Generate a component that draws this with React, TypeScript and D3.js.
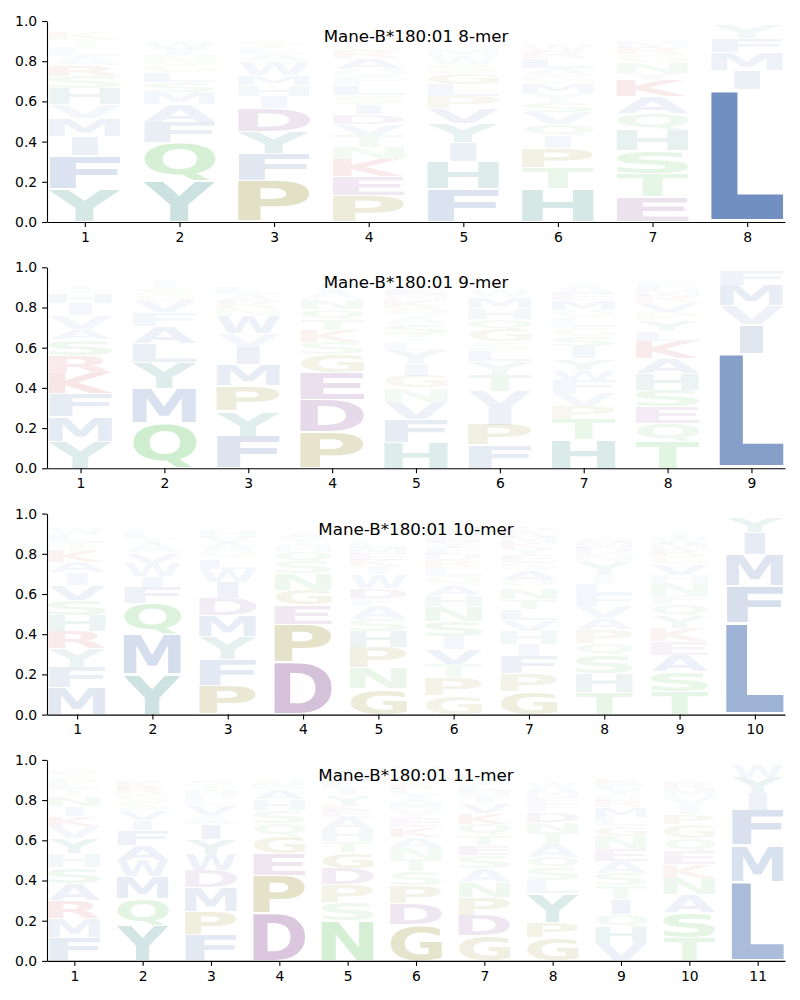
import { useRef, useEffect } from 'react'
import * as d3 from 'd3'

type Col = [string, number][]

const allele = 'Mane-B*180:01'
const lengths = [8, 9, 10, 11]
const yTicks = [0, 0.2, 0.4, 0.6, 0.8, 1.0]

// letter frequencies per position, listed bottom to top
const mer8: Col[] = [
  [['Y', .165], ['F', .165], ['I', .095], ['M', .09], ['V', .07], ['H', .08], ['S', .06], ['R', .055], ['A', .045], ['L', .045], ['T', .04], ['K', .03], ['W', .015], ['P', .01], ['E', .01], ['Q', .01]],
  [['Y', .205], ['Q', .19], ['F', .10], ['A', .09], ['M', .06], ['S', .05], ['L', .05], ['G', .04], ['N', .045], ['I', .03], ['W', .03], ['V', .02], ['R', .02], ['K', .02], ['E', .015], ['T', .015]],
  [['P', .205], ['F', .135], ['Y', .11], ['D', .115], ['I', .06], ['H', .055], ['M', .05], ['W', .07], ['A', .035], ['L', .03], ['T', .03], ['Q', .02], ['V', .02], ['S', .015], ['E', .015], ['K', .01]],
  [['P', .13], ['E', .095], ['K', .085], ['N', .06], ['T', .06], ['V', .055], ['D', .05], ['I', .05], ['S', .045], ['L', .05], ['F', .04], ['Q', .04], ['A', .055], ['R', .04], ['G', .03], ['M', .02], ['W', .02], ['H', .015], ['Y', .02], ['C', .015]],
  [['F', .165], ['H', .135], ['I', .095], ['Y', .095], ['V', .075], ['P', .06], ['L', .06], ['G', .055], ['S', .045], ['W', .04], ['M', .03], ['K', .02], ['T', .02], ['R', .02], ['E', .02], ['A', .015], ['N', .01], ['Q', .015], ['D', .01]],
  [['H', .165], ['T', .105], ['P', .095], ['I', .06], ['Q', .06], ['V', .06], ['S', .05], ['Y', .045], ['M', .05], ['G', .04], ['A', .035], ['L', .05], ['R', .03], ['W', .04], ['F', .02], ['E', .02], ['K', .02], ['N', .015], ['D', .015]],
  [['E', .125], ['T', .115], ['S', .115], ['H', .10], ['Q', .085], ['A', .085], ['K', .08], ['Y', .035], ['N', .055], ['G', .04], ['R', .03], ['M', .03], ['F', .02], ['W', .02], ['L', .02], ['V', .015], ['I', .01]],
  [['L', .66], ['I', .095], ['M', .09], ['F', .07], ['Y', .065]],
]

const mer9: Col[] = [
  [['Y', .135], ['M', .12], ['F', .115], ['K', .10], ['R', .09], ['S', .08], ['A', .05], ['V', .07], ['I', .06], ['H', .05], ['T', .035], ['W', .02], ['E', .02], ['Q', .02], ['L', .015]],
  [['Q', .225], ['M', .17], ['Y', .13], ['L', .095], ['A', .085], ['F', .07], ['V', .06], ['G', .03], ['S', .03], ['I', .03], ['K', .02], ['T', .02], ['R', .015], ['E', .01]],
  [['F', .16], ['Y', .125], ['P', .125], ['M', .105], ['I', .085], ['V', .07], ['W', .085], ['N', .04], ['R', .03], ['A', .04], ['L', .03], ['T', .02], ['S', .02], ['E', .02], ['H', .02], ['K', .01]],
  [['P', .18], ['D', .16], ['E', .135], ['G', .09], ['S', .06], ['K', .06], ['T', .055], ['Q', .05], ['N', .05], ['A', .04], ['I', .03], ['R', .02], ['F', .02], ['V', .02], ['L', .01]],
  [['H', .13], ['F', .115], ['V', .085], ['N', .07], ['G', .06], ['I', .06], ['Y', .07], ['L', .04], ['T', .035], ['S', .05], ['A', .04], ['Q', .04], ['K', .04], ['M', .03], ['E', .025], ['W', .02], ['D', .015], ['P', .02], ['C', .015], ['R', .02]],
  [['F', .115], ['P', .10], ['I', .085], ['V', .085], ['T', .08], ['Y', .065], ['L', .055], ['S', .045], ['G', .06], ['Q', .05], ['H', .055], ['M', .055], ['W', .03], ['K', .02], ['E', .02], ['R', .02], ['A', .015], ['N', .02]],
  [['H', .145], ['T', .10], ['P', .065], ['V', .065], ['F', .065], ['W', .05], ['Y', .055], ['I', .06], ['S', .05], ['G', .045], ['L', .045], ['Q', .04], ['M', .05], ['E', .03], ['A', .045], ['N', .02], ['K', .02], ['R', .02], ['D', .015]],
  [['T', .135], ['Q', .09], ['E', .08], ['S', .085], ['H', .08], ['A', .075], ['K', .085], ['L', .05], ['Y', .055], ['P', .04], ['V', .05], ['R', .03], ['M', .03], ['F', .03], ['G', .02], ['N', .02], ['W', .015], ['I', .01]],
  [['L', .57], ['I', .145], ['V', .095], ['M', .10], ['F', .075]],
]

const mer10: Col[] = [
  [['M', .135], ['F', .10], ['Y', .095], ['R', .085], ['H', .08], ['S', .075], ['V', .075], ['I', .06], ['A', .055], ['K', .06], ['T', .04], ['L', .035], ['W', .03], ['E', .02], ['Q', .02], ['N', .015]],
  [['Y', .20], ['M', .195], ['Q', .16], ['F', .08], ['I', .055], ['W', .065], ['V', .05], ['A', .045], ['T', .03], ['L', .03], ['S', .02], ['G', .02], ['R', .02], ['E', .015]],
  [['P', .145], ['F', .13], ['Y', .115], ['M', .105], ['D', .085], ['I', .08], ['W', .065], ['L', .05], ['Q', .04], ['A', .04], ['V', .03], ['H', .03], ['S', .02], ['N', .02], ['E', .02]],
  [['D', .26], ['P', .19], ['E', .095], ['G', .075], ['N', .08], ['S', .06], ['Q', .05], ['H', .03], ['T', .035], ['A', .03], ['K', .02], ['V', .02], ['R', .02], ['L', .01]],
  [['G', .13], ['N', .105], ['P', .10], ['H', .08], ['S', .06], ['A', .065], ['F', .04], ['D', .05], ['W', .07], ['I', .04], ['K', .03], ['E', .03], ['M', .03], ['L', .03], ['Q', .02], ['R', .02], ['T', .015], ['Y', .02], ['V', .02], ['C', .015]],
  [['G', .095], ['P', .09], ['T', .065], ['V', .075], ['I', .065], ['S', .075], ['N', .075], ['H', .055], ['A', .05], ['Q', .045], ['L', .045], ['R', .035], ['D', .03], ['F', .03], ['Y', .03], ['E', .025], ['W', .025], ['M', .025], ['C', .015], ['K', .02]],
  [['G', .115], ['P', .09], ['F', .085], ['I', .06], ['H', .065], ['V', .055], ['L', .055], ['T', .05], ['N', .055], ['Q', .04], ['A', .05], ['S', .04], ['E', .035], ['Y', .03], ['K', .03], ['M', .03], ['R', .025], ['D', .025], ['W', .02], ['C', .015]],
  [['T', .11], ['H', .095], ['S', .09], ['Q', .06], ['P', .07], ['A', .055], ['V', .06], ['F', .06], ['L', .055], ['I', .045], ['Y', .06], ['N', .04], ['D', .03], ['M', .03], ['G', .03], ['W', .02], ['K', .02], ['R', .02], ['E', .02]],
  [['T', .115], ['S', .10], ['A', .08], ['E', .07], ['K', .065], ['Y', .06], ['Q', .06], ['F', .045], ['N', .06], ['H', .04], ['V', .055], ['G', .04], ['R', .03], ['M', .03], ['W', .03], ['I', .025], ['D', .02], ['P', .02], ['L', .02], ['C', .01]],
  [['L', .455], ['F', .185], ['M', .155], ['I', .11], ['Y', .075], ['V', .01]],
]

const mer11: Col[] = [
  [['F', .115], ['M', .095], ['R', .09], ['A', .085], ['S', .08], ['H', .07], ['Y', .075], ['V', .06], ['K', .05], ['I', .05], ['N', .05], ['T', .04], ['L', .03], ['G', .03], ['Q', .03], ['E', .02], ['W', .01]],
  [['Y', .175], ['Q', .135], ['M', .11], ['W', .08], ['A', .075], ['F', .075], ['I', .05], ['V', .05], ['S', .04], ['G', .04], ['R', .03], ['K', .03], ['E', .02], ['T', .02], ['L', .02], ['H', .02], ['N', .01]],
  [['F', .13], ['P', .115], ['M', .12], ['D', .085], ['W', .08], ['Y', .075], ['I', .075], ['A', .045], ['V', .05], ['L', .04], ['H', .03], ['T', .03], ['S', .03], ['E', .02], ['G', .02], ['K', .015], ['N', .015]],
  [['D', .235], ['P', .19], ['E', .11], ['G', .085], ['Q', .065], ['S', .065], ['H', .055], ['A', .05], ['N', .045], ['T', .02], ['K', .02], ['V', .02], ['L', .015], ['R', .01]],
  [['N', .20], ['S', .09], ['P', .09], ['D', .08], ['G', .08], ['T', .055], ['H', .06], ['A', .06], ['E', .03], ['K', .03], ['Y', .05], ['I', .035], ['L', .03], ['M', .03], ['F', .02], ['Q', .02], ['R', .015]],
  [['G', .18], ['D', .105], ['P', .09], ['S', .07], ['T', .06], ['N', .06], ['A', .05], ['K', .05], ['E', .045], ['Y', .04], ['M', .04], ['I', .035], ['L', .03], ['R', .025], ['F', .02], ['H', .02], ['V', .03], ['Q', .025]],
  [['G', .125], ['D', .10], ['P', .09], ['N', .075], ['A', .07], ['S', .065], ['E', .05], ['T', .05], ['Q', .055], ['K', .055], ['V', .05], ['I', .03], ['H', .03], ['L', .03], ['Y', .03], ['M', .025], ['W', .02], ['F', .02]],
  [['G', .115], ['P', .075], ['Y', .145], ['L', .065], ['S', .06], ['Q', .055], ['A', .065], ['T', .06], ['N', .05], ['D', .05], ['F', .04], ['E', .035], ['M', .04], ['W', .03], ['H', .02], ['K', .02], ['R', .02], ['I', .015], ['V', .02]],
  [['V', .085], ['H', .08], ['Q', .065], ['I', .075], ['T', .07], ['S', .06], ['A', .06], ['E', .06], ['N', .065], ['G', .05], ['L', .045], ['M', .05], ['R', .03], ['P', .03], ['Y', .03], ['F', .025], ['K', .025], ['D', .02], ['W', .015], ['C', .015]],
  [['T', .115], ['S', .125], ['A', .09], ['N', .08], ['K', .07], ['E', .065], ['Q', .065], ['G', .07], ['P', .05], ['I', .045], ['V', .04], ['M', .04], ['R', .03], ['W', .02], ['F', .02], ['Y', .015], ['L', .02], ['H', .015]],
  [['L', .395], ['M', .18], ['F', .175], ['I', .085], ['Y', .08], ['W', .06]],
]

const panels = [mer8, mer9, mer10, mer11]

const colorGroups: [string, string][] = [
  ['AVLIMFWC', '#4c72b0'],
  ['HY', '#2f8a82'],
  ['NQST', '#4cbb4c'],
  ['PG', '#8a8214'],
  ['DE', '#7d3a8a'],
  ['KR', '#c83232'],
]

const aaColor = (aa: string) => {
  const grp = colorGroups.find(([s]) => s.includes(aa))
  return grp ? grp[1] : '#888888'
}

const FONT = 'DejaVu Sans'

const App = () => {
  const svgRef = useRef<SVGSVGElement>(null)

  useEffect(() => {
    if (!svgRef.current) return
    const svg = d3.select(svgRef.current)
    svg.selectAll('*').remove()

    // tight glyph boxes, so each letter can be stretched to its cell
    const ctx = document.createElement('canvas').getContext('2d')!
    ctx.font = `bold 100px "${FONT}"`
    const boxes: Record<string, { l: number; r: number; a: number; d: number }> = {}
    'ACDEFGHIKLMNPQRSTVWY'.split('').forEach(c => {
      const m = ctx.measureText(c)
      boxes[c] = {
        l: m.actualBoundingBoxLeft,
        r: m.actualBoundingBoxRight,
        a: m.actualBoundingBoxAscent,
        d: m.actualBoundingBoxDescent,
      }
    })
    // narrow letters are not stretched wider than 'E' would be
    const refW = boxes['E'].l + boxes['E'].r

    const left = 47
    const right = 785
    const h = 201
    const vpad = 0.05
    const hpad = 0.02

    panels.forEach((cols, i) => {
      const n = lengths[i]
      const top = 21 + i * 246.3
      const x = d3.scaleLinear().domain([0.6, n + 0.4]).range([left, right])
      const y = d3.scaleLinear().domain([0, 1]).range([top + h, top])
      const g = svg.append('g')

      const lg = g.append('g')
      cols.forEach((col, j) => {
        const pos = j + 1
        let floor = 0
        const x0 = x(pos - 0.4 + hpad)
        const x1 = x(pos + 0.4 - hpad)
        const w = x1 - x0
        col.forEach(([aa, p]) => {
          const b = boxes[aa]
          const yb = y(floor + p * vpad / 2)
          const yt = y(floor + p * (1 - vpad / 2))
          floor += p
          const gw = b.l + b.r
          const sx = Math.min(w / gw, w / refW)
          const gx = x0 + (w - gw * sx) / 2
          const sy = (yb - yt) / (b.a + b.d)
          lg.append('text')
            .attr('transform', `translate(${gx + b.l * sx},${yt + b.a * sy}) scale(${sx},${sy})`)
            .attr('font-family', FONT)
            .attr('font-weight', 'bold')
            .attr('font-size', 100)
            .attr('fill', aaColor(aa))
            .attr('fill-opacity', Math.min(1, p * 1.2))
            .text(aa)
        })
      })

      const yAxis = g.append('g')
        .attr('transform', `translate(${left},0)`)
        .call(d3.axisLeft(y).tickValues(yTicks).tickFormat(d3.format('.1f')).tickSize(4.9).tickPadding(4.9).tickSizeOuter(0))
      const xAxis = g.append('g')
        .attr('transform', `translate(0,${top + h})`)
        .call(d3.axisBottom(x).tickValues(d3.range(1, n + 1)).tickFormat(d3.format('d')).tickSize(4.9).tickPadding(4.9).tickSizeOuter(0))
      ;[yAxis, xAxis].forEach(ax => {
        ax.attr('font-family', FONT).attr('font-size', 13.9)
        ax.selectAll('path,line').attr('stroke', '#000').attr('stroke-width', 1.1)
        ax.selectAll('text').attr('fill', '#000')
      })

      g.append('text')
        .attr('x', (left + right) / 2)
        .attr('y', top + 21)
        .attr('text-anchor', 'middle')
        .attr('font-family', FONT)
        .attr('font-size', 16.7)
        .attr('fill', '#000')
        .text(`${allele} ${n}-mer`)
    })
  }, [])

  return (
    <svg
      ref={svgRef}
      width={800}
      height={1000}
      style={{ position: 'absolute', left: 0, top: 0, background: '#fff' }}
    />
  )
}

export default App
